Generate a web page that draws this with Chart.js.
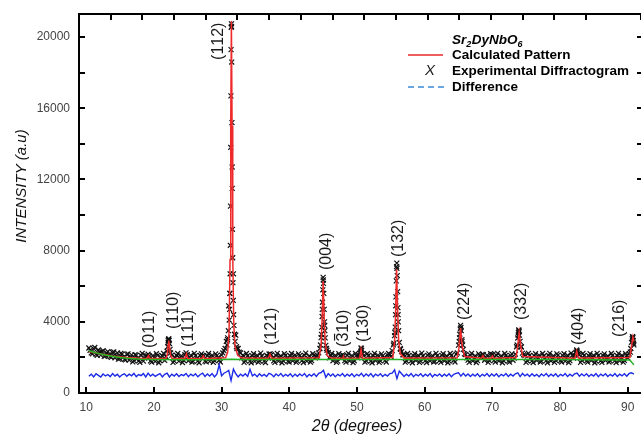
<!DOCTYPE html>
<html>
<head>
<meta charset="utf-8">
<script src="https://cdn.jsdelivr.net/npm/chart.js@4.4.1/dist/chart.umd.min.js"></script>
<style>
  html, body { margin: 0; padding: 0; background: #fff; }
</style>
</head>
<body>
<canvas id="xrd" width="641" height="436"></canvas>
<script>
// scan: 2theta from 10.4 in steps of 0.35 deg, second pass shifted by half a step
var scanStart = 10.4;
var scanStep = 0.35;

// experimental intensities on the scan grid
var expCounts = [
  2530, 2250, 2490, 2180, 2420, 2130, 2380, 2090, 2330, 2040,
  2280, 1980, 2250, 1930, 2190, 1890, 2170, 1850, 2140, 1820,
  2120, 1800, 2110, 1790, 2090, 2180, 1800, 2100, 1780, 2120,
  1810, 2080, 1830, 2350, 2780, 2130, 1800, 2110, 1790, 2090,
  1830, 2260, 1810, 2120, 1780, 2100, 1800, 2110, 2120, 1790,
  2090, 1780, 2120, 1820, 2100, 1840, 2130, 2380, 2900, 4900,
  19300, 6700, 3250, 2500, 2250, 2120, 1810, 2100, 1790, 2090,
  1780, 2110, 1810, 2080, 1790, 2120, 2190, 2150, 1800, 2100,
  1790, 2090, 1820, 2120, 1780, 2080, 1810, 2130, 1790, 2100,
  1830, 2110, 1790, 2080, 1820, 2130, 2060, 2250, 3110, 6160,
  2680, 2280, 2120, 1810, 2110, 1790, 2090, 2140, 1820, 2120,
  1800, 2100, 1810, 2130, 2120, 2480, 2100, 1810, 2110, 1790,
  2090, 1820, 2120, 1800, 2090, 1830, 2130, 2150, 2380, 3220,
  7000, 2840, 2330, 2140, 1810, 2110, 1800, 2090, 1830, 2110,
  1790, 2080, 1820, 2120, 1800, 2100, 1780, 2090, 1830, 2120,
  1810, 2080, 1790, 2110, 1840, 2180, 2690, 3680, 2450, 2160,
  1850, 2120, 1800, 2090, 1820, 2110, 2170, 1840, 2120, 1820,
  2170, 1830, 2110, 1800, 2090, 1820, 2120, 1790, 2100, 1840,
  2180, 3090, 2900, 2240, 2100, 1810, 2110, 1800, 2090, 1830,
  2120, 1790, 2080, 1820, 2110, 1800, 2090, 1830, 2130, 1810,
  2100, 1790, 2110, 1820, 2120, 2130, 2360, 2160, 1840, 2110,
  1800, 2090, 1820, 2120, 1790, 2100, 1810, 2110, 1830, 2080,
  1800, 2120, 1820, 2090, 1810, 2110, 1830, 2130, 2200, 2850,
  2700
];

// experimental intensities at the half-step positions
var expCountsMid = [
  2400, 2200, 2560, 2120, 2290, 2330, 2060, 2250, 2150, 2000,
  2310, 2060, 1900, 2230, 2010, 1860, 2200, 1990, 1750, 2160,
  1950, 1720, 2230, 1960, 2100, 2080, 1730, 2000, 2210, 1700,
  1980, 2230, 2050, 2950, 2250, 1720, 1980, 2220, 1960, 1710,
  2150, 2150, 1980, 1730, 2230, 1950, 1700, 2200, 2080, 1750,
  2220, 1960, 1720, 2200, 1980, 1740, 2250, 2500, 3000, 5600,
  11500, 3300, 2500, 2300, 1980, 1720, 2220, 1960, 1700, 2210,
  1970, 1730, 2240, 1950, 1710, 2050, 2200, 1960, 1720, 2230,
  1980, 1700, 2210, 1950, 1740, 2220, 1960, 1720, 2200, 1990,
  1710, 2240, 1950, 1730, 2210, 1970, 2100, 2500, 4700, 3800,
  2400, 1980, 2220, 1950, 1720, 2210, 1960, 2100, 1730, 2230,
  1950, 1710, 2220, 1970, 2250, 2200, 1730, 2210, 1960, 1700,
  2230, 1950, 1720, 2200, 1980, 1740, 2220, 2050, 2700, 4900,
  4400, 2450, 2150, 1730, 2220, 1960, 1700, 2210, 1980, 1720,
  2240, 1950, 1710, 2200, 1970, 1740, 2230, 1960, 1720, 2210,
  1980, 1700, 2220, 1950, 1740, 2250, 3300, 2900, 2200, 1980,
  1720, 2230, 1960, 1710, 2200, 1980, 2150, 1960, 1720, 2210,
  2150, 1740, 2230, 1950, 1700, 2220, 1980, 1730, 2200, 1960,
  2600, 3500, 2600, 2150, 1720, 2230, 1950, 1710, 2210, 1970,
  1740, 2220, 1960, 1700, 2230, 1980, 1720, 2200, 1950, 1740,
  2210, 1970, 1710, 2240, 1960, 2250, 2200, 1720, 2220, 1950,
  1730, 2210, 1980, 1700, 2230, 1960, 1720, 2200, 1990, 1740,
  2220, 1950, 1710, 2230, 1970, 1730, 2210, 1960, 2300, 3150
];

// extra experimental points recorded across the reflections
var expPeakAngles = [
  22.05, 22.10, 22.15, 22.20, 22.25, 22.40,
  30.80, 30.90, 31.00, 31.13, 31.18, 31.22, 31.26, 31.29, 31.32, 31.35, 31.38, 31.43, 31.45,
  31.47, 31.50, 31.53, 31.56, 31.60, 31.64, 31.68, 31.72, 31.78, 31.83, 31.90, 32.00, 32.20,
  44.60, 44.75, 44.80, 44.85, 44.90, 44.95, 45.00, 45.02, 45.10, 45.15, 45.20, 45.25, 45.30, 45.50,
  50.55, 50.60, 50.70,
  55.45, 55.60, 55.65, 55.70, 55.75, 55.80, 55.85, 55.88, 55.95, 56.00, 56.05, 56.10, 56.15, 56.40,
  65.10, 65.15, 65.25, 65.30, 65.40, 65.50, 65.60,
  73.65, 73.80, 73.85, 73.90, 73.95, 74.00, 74.25,
  82.40, 82.45, 82.55, 82.65,
  90.45, 90.65, 90.70, 90.75, 90.80, 90.85
];
var expPeakCounts = [
  2600, 2850, 3000, 3050, 2950, 2450,
  2700, 3100, 3500, 4100, 4700, 5600, 6700, 8300, 10500, 13800, 16700, 20550, 20750,
  20600, 18600, 15200, 12700, 9200, 7600, 6200, 5200, 4400, 3800, 3300, 2900, 2600,
  2700, 3300, 3700, 4300, 5100, 5800, 6500, 6350, 5600, 4700, 4000, 3500, 3100, 2500,
  2350, 2530, 2400,
  2800, 3400, 3700, 4400, 5400, 6300, 7100, 7300, 6600, 5700, 4800, 4000, 3500, 2500,
  2900, 3100, 3600, 3800, 3500, 3000, 2700,
  2700, 3250, 3400, 3550, 3450, 3250, 2600,
  2300, 2420, 2300, 2200,
  2500, 3050, 3170, 3100, 2950, 2800
];

// calculated (Rietveld) pattern
var calcAngles = [
  10.4, 12, 14, 16, 18, 19.0, 19.2, 19.4, 21.8, 22.0, 22.1, 22.2, 22.3, 22.45, 22.7,
  24.6, 24.8, 25.0, 27.1, 27.3, 27.5, 30.6, 30.9, 31.1, 31.25, 31.35, 31.45, 31.55, 31.65,
  31.8, 32.0, 32.4, 33.0, 36.9, 37.15, 37.4, 44.4, 44.7, 44.85, 45.0, 45.15, 45.3, 45.6,
  46.2, 47.9, 48.0, 48.1, 50.4, 50.6, 50.8, 55.3, 55.55, 55.7, 55.85, 56.0, 56.15, 56.4,
  57.0, 64.8, 65.05, 65.3, 65.55, 65.9, 68.4, 68.6, 68.8, 69.8, 70.0, 70.2, 73.5, 73.75,
  73.95, 74.2, 74.5, 82.2, 82.45, 82.7, 90.3, 90.55, 90.75, 90.9
];
var calcCounts = [
  2330, 2200, 2070, 1990, 1950, 1945, 2100, 1945, 1940, 2200, 2700, 2950, 2650, 2150, 1945,
  1940, 2200, 1940, 1940, 2080, 1940, 1980, 2300, 3400, 7500, 15000, 20900, 15000, 7800,
  3800, 2600, 2100, 1960, 1950, 2180, 1950, 1980, 2700, 4200, 6300, 4300, 2800, 2100,
  1960, 1950, 2050, 1950, 1960, 2450, 1960, 2000, 2900, 4500, 6950, 4700, 3000, 2200,
  1960, 1980, 2500, 3650, 2600, 2050, 1950, 2100, 1950, 1950, 2080, 1950, 1990, 2700,
  3400, 2600, 2050, 1960, 2350, 1970, 1990, 2600, 3150, 2900
];

// background
var bgAngles = [10.4, 11, 12, 13, 14, 15, 16, 17, 18, 20, 25, 30, 31.45, 33, 40, 50, 60, 70, 80, 90.3, 90.9];
var bgCounts = [2370, 2300, 2200, 2120, 2050, 1990, 1950, 1920, 1900, 1880, 1870, 1880, 1900, 1880, 1880, 1880, 1880, 1880, 1880, 1860, 1580];

// difference curve (offset), on the scan grid
var diffCounts = [
  940, 1060, 910, 1080, 990, 900, 1070, 960, 1040, 920,
  1090, 950, 1050, 900, 1020, 1080, 940, 1060, 970, 1100,
  920, 1040, 980, 1090, 900, 1110, 950, 1060, 930, 1020,
  1090, 910, 1050, 1120, 900, 1060, 950, 1080, 930, 1040,
  980, 1100, 920, 1060, 960, 1080, 910, 1040, 1110, 930,
  1070, 950, 1090, 910, 1060, 1580, 970, 1110, 1180, 1270,
  700, 1340, 1080, 910, 1060, 950, 1080, 930, 1330, 960,
  1060, 920, 1080, 950, 1040, 930, 1100, 1050, 910, 1070,
  960, 1090, 930, 1050, 950, 1080, 920, 1060, 940, 1070,
  960, 1090, 910, 1050, 950, 1080, 930, 1110, 1150, 1280,
  880, 1090, 950, 1070, 920, 1050, 960, 1090, 930, 1060,
  950, 1080, 920, 1050, 960, 1110, 930, 1070, 950, 1090,
  910, 1060, 960, 1080, 930, 1050, 950, 1090, 1120, 1300,
  810, 1230, 1080, 930, 1060, 950, 1090, 920, 1050, 960,
  1080, 930, 1060, 950, 1090, 910, 1050, 960, 1070, 930,
  1060, 950, 1080, 920, 1050, 1100, 1140, 950, 1110, 960,
  1070, 930, 1060, 950, 1080, 920, 1050, 960, 1090, 930,
  1070, 950, 1080, 920, 1050, 960, 1090, 930, 1060, 950,
  1080, 1130, 920, 1100, 960, 1060, 930, 1080, 950, 1050,
  920, 1070, 960, 1090, 930, 1060, 950, 1080, 920, 1050,
  960, 1090, 930, 1060, 950, 1080, 1120, 940, 1070, 960,
  1080, 930, 1050, 950, 1090, 920, 1060, 960, 1080, 930,
  1050, 950, 1090, 930, 1060, 960, 1080, 940, 1100, 1140,
  1060
];

// axes
var xTickValues = [10, 20, 30, 40, 50, 60, 70, 80, 90];
var yTickValues = [0, 4000, 8000, 12000, 16000, 20000];
var yMinorValues = [2000, 6000, 10000, 14000, 18000];

// Miller indices of the reflections, with 2theta and the intensity where each label starts
var hklLabels = ['(011)', '(110)', '(111)', '(112)', '(121)', '(004)', '(3\u030410)', '(130)', '(132)', '(224)', '(332)', '(404)', '(216)'];
var hklAngles = [19.13, 22.67, 24.89, 29.32, 37.15, 45.27, 47.78, 50.74, 55.91, 65.66, 74.08, 82.5, 88.55];
var hklCounts = [2530, 3600, 2590, 18720, 2700, 6910, 2590, 2870, 7640, 4100, 4100, 2700, 3150];

var compound = ['Sr', '2', 'DyNbO', '6'];
var seriesNames = ['Calculated Pattern', 'Experimental Diffractogram', 'Difference'];

var FONT = '"Liberation Sans", Arial, sans-serif';

function scanPoints(values, shift) {
    return values.map(function (v, i) {
        return { x: scanStart + shift + i * scanStep, y: v };
    });
}
function pairPoints(xs, ys) {
    return xs.map(function (x, i) { return { x: x, y: ys[i] }; });
}

var expPoints = scanPoints(expCounts, 0)
    .concat(scanPoints(expCountsMid, scanStep / 2))
    .concat(pairPoints(expPeakAngles, expPeakCounts));

// draw one hkl label; a combining macron puts a bar over the previous digit
function drawHkl(ctx, text, size) {
    var x = 0;
    var base = size * 0.36;
    for (var i = 0; i < text.length; i++) {
        var ch = text[i];
        if (ch === '\u0304') continue;
        var w = ctx.measureText(ch).width;
        ctx.fillText(ch, x, base);
        if (text[i + 1] === '\u0304') {
            ctx.fillRect(x + 1, base - size * 0.86, w - 2, 1.2);
        }
        x += w;
    }
}

var decorPlugin = {
    id: 'decor',
    afterDatasetsDraw: function (chart) {
        var ctx = chart.ctx;
        var a = chart.chartArea;
        var xs = chart.scales.x;
        var ys = chart.scales.y;
        var xt = chart.scales.xTop;

        ctx.save();
        // frame (the right edge sits on the canvas border)
        ctx.strokeStyle = '#000';
        ctx.lineWidth = 2;
        ctx.beginPath();
        ctx.moveTo(a.left, a.top); ctx.lineTo(a.right, a.top);
        ctx.moveTo(a.left, a.top - 1); ctx.lineTo(a.left, a.bottom + 1);
        ctx.moveTo(a.left, a.bottom); ctx.lineTo(a.right, a.bottom);
        ctx.stroke();

        // inward ticks
        ctx.beginPath();
        xTickValues.forEach(function (v) {
            var px = Math.round(xs.getPixelForValue(v));
            ctx.moveTo(px, a.bottom); ctx.lineTo(px, a.bottom - 6);
        });
        xt.ticks.forEach(function (t) {
            if (t.value <= 0) return;
            var px = Math.round(xt.getPixelForValue(t.value));
            ctx.moveTo(px, a.top); ctx.lineTo(px, a.top + 6);
        });
        yTickValues.concat(yMinorValues).forEach(function (v) {
            if (v === 0) return;
            var py = Math.round(ys.getPixelForValue(v));
            ctx.moveTo(a.left, py); ctx.lineTo(a.left + 6, py);
            ctx.moveTo(a.right, py); ctx.lineTo(a.right - 4, py);
        });
        ctx.stroke();

        // hkl labels
        ctx.fillStyle = '#1a1a1a';
        ctx.font = '16px ' + FONT;
        ctx.textAlign = 'left';
        ctx.textBaseline = 'alphabetic';
        hklLabels.forEach(function (lab, i) {
            ctx.save();
            ctx.translate(xs.getPixelForValue(hklAngles[i]), ys.getPixelForValue(hklCounts[i]));
            ctx.rotate(-Math.PI / 2);
            drawHkl(ctx, lab, 16);
            ctx.restore();
        });

        // axis titles
        ctx.fillStyle = '#111';
        ctx.textAlign = 'center';
        ctx.textBaseline = 'middle';
        ctx.font = 'italic 16px ' + FONT;
        ctx.fillText('2\u03b8 (degrees)', 357, 427);
        ctx.save();
        ctx.translate(22, 186);
        ctx.rotate(-Math.PI / 2);
        ctx.font = 'italic 15px ' + FONT;
        ctx.fillText('INTENSITY (a.u)', 0, 0);
        ctx.restore();

        // legend
        var lx = 452;
        ctx.textAlign = 'left';
        ctx.textBaseline = 'alphabetic';
        ctx.fillStyle = '#000';
        var tx = lx;
        compound.forEach(function (part, i) {
            var sub = i % 2 === 1;
            ctx.font = sub ? 'bold italic 9px ' + FONT : 'bold italic 13.5px ' + FONT;
            ctx.fillText(part, tx, sub ? 47 : 44);
            tx += ctx.measureText(part).width + (sub ? 0.5 : 0);
        });

        ctx.font = 'bold 13.5px ' + FONT;
        ctx.textBaseline = 'middle';
        ctx.fillText(seriesNames[0], lx, 55);
        ctx.fillText(seriesNames[1], lx, 71);
        ctx.fillText(seriesNames[2], lx, 87);

        ctx.strokeStyle = '#e82828';
        ctx.lineWidth = 1.5;
        ctx.beginPath(); ctx.moveTo(408, 55); ctx.lineTo(443, 55); ctx.stroke();

        ctx.strokeStyle = '#3a8ad8';
        ctx.setLineDash([6, 4]);
        ctx.beginPath(); ctx.moveTo(408, 87); ctx.lineTo(445, 87); ctx.stroke();
        ctx.setLineDash([]);

        ctx.fillStyle = '#222';
        ctx.textAlign = 'center';
        ctx.font = 'italic 15px ' + FONT;
        ctx.fillText('X', 430, 71);
        ctx.restore();
    }
};

var tickFont = { family: FONT, size: 12 };

new Chart(document.getElementById('xrd').getContext('2d'), {
    type: 'scatter',
    data: {
        datasets: [
            {
                label: seriesNames[1],
                data: expPoints,
                showLine: false,
                pointStyle: 'crossRot',
                pointRadius: 3.5,
                pointBorderWidth: 1.2,
                pointBorderColor: '#111',
                order: 4
            },
            {
                label: seriesNames[0],
                data: pairPoints(calcAngles, calcCounts),
                showLine: true,
                borderColor: '#ee2a2a',
                borderWidth: 1.5,
                pointRadius: 0,
                order: 3
            },
            {
                label: 'Background',
                data: pairPoints(bgAngles, bgCounts),
                showLine: true,
                borderColor: '#22b422',
                borderWidth: 1.5,
                pointRadius: 0,
                order: 2
            },
            {
                label: seriesNames[2],
                data: scanPoints(diffCounts, 0),
                showLine: true,
                borderColor: '#1b2be8',
                borderWidth: 1.4,
                pointRadius: 0,
                order: 1
            }
        ]
    },
    options: {
        responsive: false,
        animation: false,
        events: [],
        layout: { autoPadding: false, padding: { top: 14, right: 0, left: 0, bottom: 0 } },
        plugins: {
            legend: { display: false },
            tooltip: { enabled: false }
        },
        scales: {
            x: {
                type: 'linear',
                position: 'bottom',
                min: 8.94,
                max: 91.95,
                afterBuildTicks: function (s) { s.ticks = xTickValues.map(function (v) { return { value: v }; }); },
                afterFit: function (s) { s.height = 43; s.paddingLeft = 0; s.paddingRight = 0; },
                grid: { display: false, drawTicks: false },
                border: { display: false },
                ticks: {
                    padding: 7,
                    color: '#444',
                    font: tickFont,
                    maxRotation: 0,
                    autoSkip: false,
                    callback: function (v) { return String(v); }
                }
            },
            xTop: {
                type: 'linear',
                position: 'top',
                min: 0,
                max: 17.73,
                afterFit: function (s) { s.height = 0; s.paddingLeft = 0; s.paddingRight = 0; },
                grid: { display: false, drawTicks: false },
                border: { display: false },
                ticks: { display: false, stepSize: 1 }
            },
            y: {
                type: 'linear',
                min: 0,
                max: 21300,
                afterBuildTicks: function (s) { s.ticks = yTickValues.map(function (v) { return { value: v }; }); },
                afterFit: function (s) { s.width = 79; s.paddingTop = 0; s.paddingBottom = 0; },
                grid: { display: false, drawTicks: false },
                border: { display: false },
                ticks: {
                    padding: 9,
                    color: '#444',
                    font: tickFont,
                    callback: function (v) { return String(v); }
                }
            }
        }
    },
    plugins: [decorPlugin]
});
</script>
</body>
</html>
